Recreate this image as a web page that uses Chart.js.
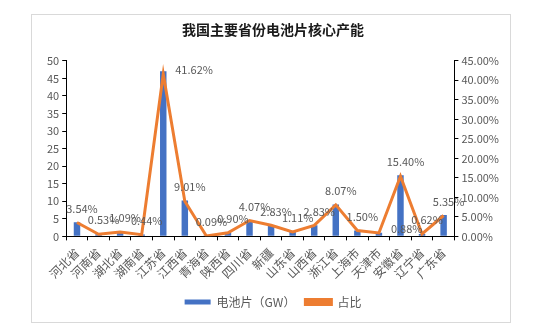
<!DOCTYPE html>
<html>
<head>
<meta charset="utf-8">
<script src="https://cdn.jsdelivr.net/npm/chart.js@4/dist/chart.umd.min.js"></script>
<style>
  html, body { margin: 0; padding: 0; background: #fff; }
  #box {
    position: absolute; left: 31px; top: 14px;
    width: 480px; height: 309px;
    border: 1px solid #d9d9d9; box-sizing: border-box;
  }
</style>
</head>
<body>
<div id="box"><canvas id="chart"></canvas></div>
<script>
const provinces = ["河北省", "河南省", "湖北省", "湖南省", "江苏省", "江西省", "青海省", "陕西省", "四川省",
  "新疆", "山东省", "山西省", "浙江省", "上海市", "天津市", "安徽省", "辽宁省", "广东省"];
const capacityGW = [4.0, 0.6, 1.23, 0.5, 47.0, 10.2, 0.1, 1.02, 4.6, 3.2, 1.25, 3.2, 9.1, 1.7, 1.0, 17.4, 0.7, 6.05];
const sharePct = [3.54, 0.53, 1.09, 0.44, 41.62, 9.01, 0.09, 0.90, 4.07, 2.83, 1.11, 2.83, 8.07, 1.50, 0.88, 15.40, 0.62, 5.35];
// where each percentage label sits relative to its point
const labelPos = ["up", "up", "up", "up", "right", "up", "up", "up", "up",
  "up", "up", "up", "up", "up", "right", "up", "up", "up"];

const FONT = "'Noto Sans CJK SC', 'Noto Sans', sans-serif";
const GREY = "#595959";

// draws the percent labels beside the line points
const shareLabels = {
  id: "shareLabels",
  afterDatasetsDraw(chart) {
    const meta = chart.getDatasetMeta(1);
    const ctx = chart.ctx;
    ctx.save();
    ctx.font = "11px " + FONT;
    ctx.fillStyle = GREY;
    ctx.textBaseline = "middle";
    meta.data.forEach((pt, i) => {
      const txt = sharePct[i].toFixed(2) + "%";
      if (labelPos[i] == "right") {
        ctx.textAlign = "left";
        ctx.fillText(txt, pt.x + 12, pt.y - 4);
      } else {
        ctx.textAlign = "center";
        ctx.fillText(txt, pt.x + 5, pt.y - 14);
      }
    });
    ctx.restore();
  },
};

new Chart(document.getElementById("chart"), {
  data: {
    labels: provinces,
    datasets: [
      {
        type: "bar",
        label: "电池片（GW）",
        data: capacityGW,
        backgroundColor: "#4472C4",
        barPercentage: 0.6,
        categoryPercentage: 0.5,
        yAxisID: "y",
        order: 1,
      },
      {
        type: "line",
        label: "占比",
        data: sharePct,
        borderColor: "#ED7D31",
        backgroundColor: "#ED7D31",
        borderWidth: 3,
        pointRadius: 0,
        tension: 0,
        yAxisID: "y1",
        order: 0,
      },
    ],
  },
  options: {
    responsive: true,
    maintainAspectRatio: false,
    animation: false,
    layout: { padding: { left: 12, right: 8, top: 1, bottom: 4 } },
    plugins: {
      title: {
        display: true,
        text: "我国主要省份电池片核心产能",
        font: { family: FONT, size: 14, weight: "bold" },
        color: "#1a1a1a",
        padding: { top: 5, bottom: 23 },
      },
      legend: {
        position: "bottom",
        labels: {
          font: { family: FONT, size: 12 },
          color: GREY,
          boxWidth: 26,
          boxHeight: 5,
          padding: 10,
          sort: (a, b) => a.datasetIndex - b.datasetIndex,
        },
      },
      tooltip: { enabled: false },
    },
    scales: {
      x: {
        grid: { drawOnChartArea: false, color: "#000", tickLength: 4 },
        border: { color: "#000" },
        ticks: {
          font: { family: FONT, size: 12 },
          color: GREY,
          padding: 5,
          maxRotation: 45,
          minRotation: 45,
          autoSkip: false,
        },
      },
      y: {
        position: "left",
        min: 0,
        max: 50,
        grid: { drawOnChartArea: false, color: "#000", tickLength: 4 },
        border: { color: "#000" },
        ticks: {
          stepSize: 5,
          font: { family: FONT, size: 11 },
          color: GREY,
          padding: 3,
        },
      },
      y1: {
        position: "right",
        min: 0,
        max: 45,
        grid: { drawOnChartArea: false, color: "#000", tickLength: 4 },
        border: { color: "#000" },
        ticks: {
          stepSize: 5,
          font: { family: FONT, size: 11 },
          color: GREY,
          padding: 3,
          callback: (v) => v.toFixed(2) + "%",
        },
      },
    },
  },
  plugins: [shareLabels],
});
</script>
</body>
</html>
